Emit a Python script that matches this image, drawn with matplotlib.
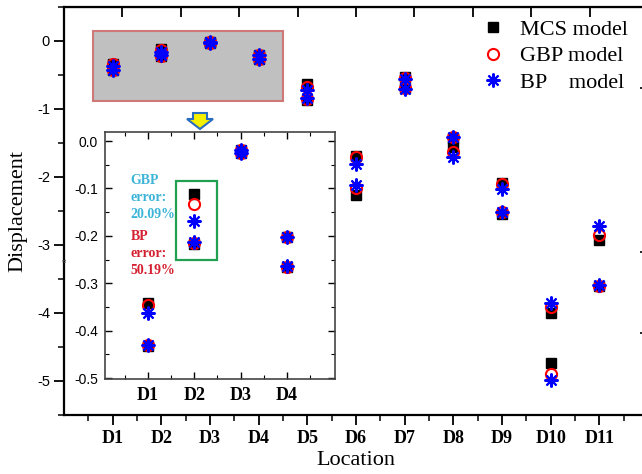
import numpy as np
import matplotlib.pyplot as plt
from matplotlib.patches import Rectangle, Polygon
from matplotlib.lines import Line2D

plt.rcParams['font.family'] = ['Liberation Serif', 'DejaVu Serif']
sans = 'Liberation Sans'

locations = ["D1", "D2", "D3", "D4", "D5", "D6", "D7", "D8", "D9", "D10", "D11"]

# two load cases per location (upper / lower cluster)
mcs_a = [-0.341, -0.112, -0.020, -0.202, -0.63, -1.69, -0.53, -1.43, -2.09, -4.00, -2.93]
gbp_a = [-0.345, -0.133, -0.020, -0.202, -0.67, -1.71, -0.55, -1.41, -2.10, -3.91, -2.85]
bp_a = [-0.362, -0.168, -0.020, -0.202, -0.72, -1.81, -0.56, -1.41, -2.18, -3.85, -2.72]
mcs_b = [-0.433, -0.218, -0.025, -0.266, -0.87, -2.26, -0.69, -1.56, -2.54, -4.74, -3.60]
gbp_b = [-0.430, -0.215, -0.025, -0.265, -0.86, -2.16, -0.69, -1.63, -2.51, -4.90, -3.60]
bp_b = [-0.430, -0.213, -0.025, -0.263, -0.84, -2.12, -0.70, -1.70, -2.51, -4.99, -3.59]

inset_n = 4

W, H = 642, 474
fig = plt.figure(figsize=(W / 100, H / 100), dpi=100)

def fx(px):
    return px / W

def fy(py):
    return 1 - py / H

ast = (8, 2, 0)
sq_kw = dict(marker='s', color='black', markersize=7.5, linestyle='none', zorder=3)
ci_kw = dict(marker='o', markerfacecolor='none', markeredgecolor='red', markeredgewidth=1.5,
             markersize=8, linestyle='none', zorder=4)
st_kw = dict(marker=ast, color='blue', markeredgewidth=1.5, markersize=10, linestyle='none', zorder=5)

# ---- main axes ----
ax = fig.add_axes([fx(64), fy(415), (648 - 64) / W, (415 - 7) / H])
x = np.arange(1, len(locations) + 1)
for m, g, b in [(mcs_a, gbp_a, bp_a), (mcs_b, gbp_b, bp_b)]:
    ax.plot(x, m, **sq_kw)
    ax.plot(x, g, **ci_kw)
    ax.plot(x, b, **st_kw)

ax.set_xlim(0, 12)
ax.set_ylim(-5.5, 0.5)
ax.set_xticks(x)
ax.set_xticklabels(locations, fontweight='bold', fontsize=13)
ax.set_xticks(np.arange(0.5, 12, 1), minor=True)
ax.set_yticks([0, -1, -2, -3, -4, -5])
ax.set_yticklabels(['0', '-1', '-2', '-3', '-4', '-5'], family=sans, fontsize=10.5)
ax.set_yticks(np.arange(-5.5, 0.6, 0.5), minor=True)
ax.tick_params(axis='both', which='major', direction='out', length=7, width=1.3)
ax.tick_params(axis='both', which='minor', direction='out', length=4, width=1.1)
ax.tick_params(axis='x', pad=4)
ax.tick_params(axis='y', pad=3)
for s in ['left', 'bottom', 'top']:
    ax.spines[s].set_linewidth(1.6)
ax.spines['right'].set_visible(False)
ax.set_xlabel('Location', fontsize=16, labelpad=3)
ax.set_ylabel('Displacement', fontsize=16, labelpad=7)

top = ax.secondary_xaxis('top')
top.set_xticks(np.arange(1.2, 12, 1.2))
top.tick_params(direction='in', length=7, width=1.3, labeltop=False)

right = ax.secondary_yaxis('right')
right.set_yticks([-0.69, -3.10, -4.29])
right.tick_params(direction='in', length=6, width=1.2, labelright=False)
right.spines['right'].set_visible(False)

# grey zoom region
ax.add_patch(Rectangle((0.6, -0.88), 3.9, 1.03, facecolor='#c0c0c0', edgecolor='#d07878',
                       linewidth=1.5, zorder=1))

# yellow arrow
arrow_px = [(193, 113), (207, 113), (207, 119), (213, 119), (200, 129), (187, 119), (193, 119)]
fig.patches.append(Polygon([(fx(a), fy(b)) for a, b in arrow_px], closed=True,
                           transform=fig.transFigure, facecolor='#f4f000',
                           edgecolor='#2a6cc0', linewidth=1.5, zorder=5))

# legend
handles = [Line2D([], [], **sq_kw), Line2D([], [], **ci_kw), Line2D([], [], **st_kw)]
fig.legend(handles, ['MCS model', 'GBP model', 'BP    model'], loc='upper left',
           bbox_to_anchor=(fx(482), fy(19)), bbox_transform=fig.transFigure,
           frameon=False, fontsize=16, handlelength=1.0, handletextpad=0.7,
           labelspacing=0.28, borderpad=0, borderaxespad=0)

fig.text(fx(65), fy(260), 'a', rotation=90, fontsize=6, color='#555555',
         ha='center', va='center')

# ---- inset ----
ins = fig.add_axes([fx(105), fy(379), (335 - 105) / W, (379 - 132) / H])
ins.set_zorder(10)
ins.set_facecolor('white')
xi = np.arange(1, inset_n + 1)
for m, g, b in [(mcs_a, gbp_a, bp_a), (mcs_b, gbp_b, bp_b)]:
    ins.plot(xi, m[:inset_n], **sq_kw)
    ins.plot(xi, g[:inset_n], **ci_kw)
    ins.plot(xi, b[:inset_n], **st_kw)
ins.set_xlim(0.07, 5.04)
ins.set_ylim(-0.502, 0.019)
ins.set_xticks(xi)
ins.set_xticklabels(locations[:inset_n], fontweight='bold', fontsize=13)
ins.set_xticks(np.arange(0.5, 5.0, 0.5), minor=True)
ins.set_yticks([0.0, -0.1, -0.2, -0.3, -0.4, -0.5])
ins.set_yticklabels(['0.0', '-0.1', '-0.2', '-0.3', '-0.4', '-0.5'], family=sans, fontsize=10)
ins.set_yticks(np.arange(-0.5, 0.01, 0.05), minor=True)
ins.tick_params(which='both', direction='in', top=True, right=True)
ins.tick_params(which='major', length=5, width=1)
ins.tick_params(which='minor', length=3, width=0.8)
ins.tick_params(axis='x', pad=6)
ins.tick_params(axis='y', pad=5)
for s in ins.spines.values():
    s.set_linewidth(1.2)
    s.set_color('#444444')

ins.add_patch(Rectangle((1.6, -0.25), 0.89, 0.166, facecolor='none', edgecolor='#20a050',
                        linewidth=1.6, zorder=2))
ins.text(0.62, -0.07, 'GBP\nerror:\n20.09%', color='#3cb4d8', fontweight='bold',
         fontsize=10, va='top', ha='left', linespacing=1.4)
ins.text(0.62, -0.188, 'BP\nerror:\n50.19%', color='#d42030', fontweight='bold',
         fontsize=10, va='top', ha='left', linespacing=1.4)

fig.savefig('out.png', dpi=100)
